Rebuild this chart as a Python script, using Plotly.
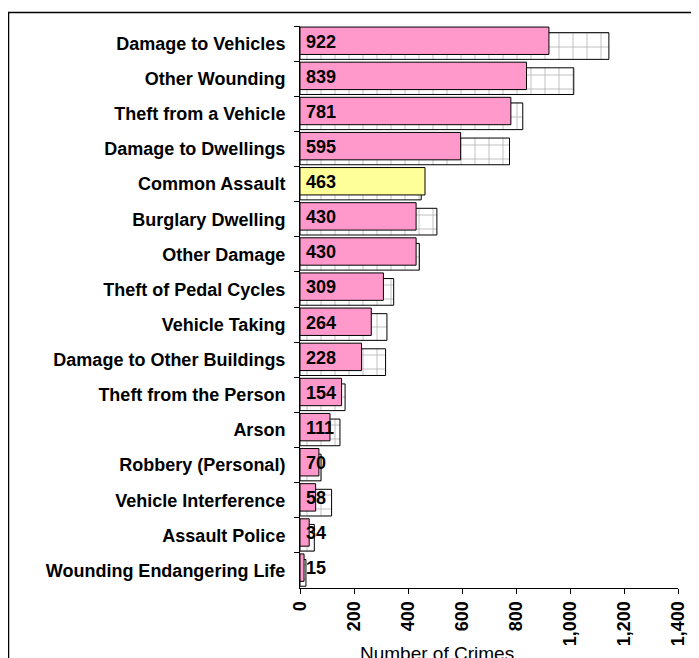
import plotly.graph_objects as go

categories = ["Damage to Vehicles", "Other Wounding", "Theft from a Vehicle",
              "Damage to Dwellings", "Common Assault", "Burglary Dwelling",
              "Other Damage", "Theft of Pedal Cycles", "Vehicle Taking",
              "Damage to Other Buildings", "Theft from the Person", "Arson",
              "Robbery (Personal)", "Vehicle Interference", "Assault Police",
              "Wounding Endangering Life"]
current_values = [922, 839, 781, 595, 463, 430, 430, 309, 264, 228, 154, 111, 70, 58, 34, 15]
previous_values = [1144, 1014, 825, 776, 449, 507, 442, 347, 322, 317, 167, 148, 78, 117, 53, 22]
highlight = "Common Assault"
x_ticks = [0, 200, 400, 600, 800, 1000, 1200, 1400]

FONT = "Arial, Liberation Sans, sans-serif"
PINK = "#FF99CC"
YELLOW = "#FFFF99"

colors = [YELLOW if c == highlight else PINK for c in categories]

# page body has an 8px margin; figure is sized/offset to compensate
W, H = 691, 650
L, R, T, B = 292, 21, 18, 70
PW, PH = W - L - R, H - T - B

fig = go.Figure()
fig.add_trace(go.Bar(
    y=categories, x=previous_values, orientation="h",
    offset=-0.31, width=0.76,
    marker=dict(color="white", line=dict(color="black", width=1),
                pattern=dict(shape="+", fgcolor="#505050", bgcolor="white",
                             size=14, solidity=0.1)),
    hoverinfo="skip", showlegend=False,
))
fig.add_trace(go.Bar(
    y=categories, x=current_values, orientation="h",
    offset=-0.47, width=0.78,
    marker=dict(color=colors, line=dict(color="black", width=1)),
    showlegend=False,
))

for c, v in zip(categories, current_values):
    fig.add_annotation(x=0, y=c, xref="x", yref="y", text=f"<b>{v}</b>",
                       showarrow=False, xanchor="left", yanchor="middle",
                       xshift=4, yshift=2,
                       font=dict(family=FONT, size=18, color="black"))

fig.add_annotation(x=(437 - 300) / PW, y=-0.095, xref="paper", yref="paper",
                   text="Number of Crimes", showarrow=False,
                   xanchor="center", yanchor="top",
                   font=dict(family=FONT, size=19, color="black"))

# outer frame (extends beyond right/bottom edges)
fig.add_shape(type="rect", xref="paper", yref="paper",
              x0=(0.5 - L) / PW, x1=(W + 20 - L) / PW,
              y0=(T + PH - (H + 40)) / PH, y1=(T + PH - 4.5) / PH,
              line=dict(color="black", width=1.5), fillcolor="rgba(0,0,0,0)",
              layer="below")

fig.update_layout(
    width=W, height=H,
    margin=dict(l=L, r=R, t=T, b=B),
    barmode="overlay",
    plot_bgcolor="white", paper_bgcolor="white",
    font=dict(family=FONT, color="black"),
    xaxis=dict(range=[0, 1400], tickvals=x_ticks, tickformat=",",
               tickangle=-90, ticks="outside", ticklen=5, tickcolor="black",
               showline=True, linecolor="black", linewidth=1,
               showgrid=False, zeroline=False,
               tickfont=dict(family=FONT, size=18, weight="bold")),
    yaxis=dict(type="category", categoryorder="array", categoryarray=categories,
               range=[15.5, -0.5], tickson="boundaries",
               ticks="outside", ticklen=5, tickcolor="black",
               showline=True, linecolor="black", linewidth=1,
               showgrid=False, zeroline=False, ticklabelstandoff=10,
               tickfont=dict(family=FONT, size=18, weight="bold")),
)

fig.write_html("out.html", config={"displayModeBar": False})
